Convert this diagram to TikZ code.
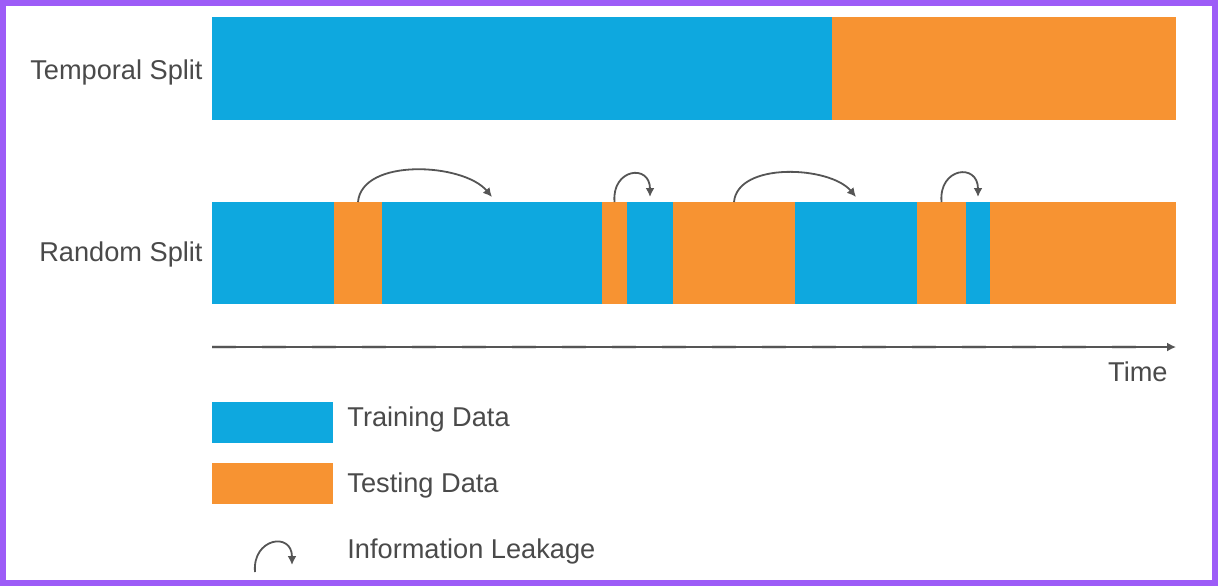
\documentclass[tikz,border=0pt]{standalone}
\usepackage{fontspec}
\setmainfont{Liberation Sans}
\usetikzlibrary{arrows.meta}
\definecolor{trainblue}{HTML}{0EA8DF}
\definecolor{testorange}{HTML}{F79332}
\definecolor{frameviolet}{HTML}{9D5CF7}
\definecolor{labelgray}{HTML}{4A4A4A}
\definecolor{leakgray}{HTML}{555555}
\begin{document}
\begin{tikzpicture}[
  x=0.5pt, y=-0.5pt,
  every node/.style={text=labelgray, font=\fontsize{13.6}{15}\selectfont, inner sep=0pt},
  leak/.style={draw=leakgray, line width=0.9pt, -{Latex[length=4.5pt, width=4.5pt]}},
  rowlabel/.style={anchor=east},
  legendtext/.style={anchor=west}
]
\useasboundingbox (0,0) rectangle (1218,586);
\fill[white] (0,0) rectangle (1218,586);
\draw[frameviolet, line width=3pt] (3,3) rectangle (1215,583);

% temporal split
\fill[trainblue] (212,17) rectangle (832,120);
\fill[testorange] (832,17) rectangle (1176,120);
\node[rowlabel] (temporal) at (203,72) {Temporal Split};

% random split
\foreach \nm/\a/\b/\c in {b1/212/334/trainblue, o1/334/382/testorange,
    b2/382/602/trainblue, o2/602/627/testorange, b3/627/673/trainblue,
    o3/673/795/testorange, b4/795/917/trainblue, o4/917/966/testorange,
    b5/966/990/trainblue, o5/990/1176/testorange}
{
  \fill[\c] (\a,202) rectangle (\b,304);
  \coordinate (\nm) at ({(\a+\b)/2},202);
}
\node[rowlabel] (random) at (203,254) {Random Split};

% leakage arcs
\draw[leak] (o1) to[out=85, in=130, looseness=0.85] ([yshift=2.5]b2);
\draw[leak] (o2) to[out=95, in=90, looseness=2.4] ([yshift=2.5]b3);
\draw[leak] (o3) to[out=85, in=130, looseness=0.85] ([yshift=2.5]b4);
\draw[leak] (o4) to[out=95, in=90, looseness=2.4] ([yshift=2.5]b5);

% time axis
\coordinate (t0) at (212,347);
\coordinate (t1) at (1176,347);
\draw[gray!25, line width=2.2pt, dash pattern=on 12 off 13] (t0) -- ([xshift=-8]t1);
\draw[leakgray, line width=0.8pt, -{Latex[length=4.5pt, width=4.5pt]}] (t0) -- (t1);
\node[anchor=east] (time) at (1168,372) {Time};

% legend
\fill[trainblue] (212,402) rectangle (333,443);
\node[legendtext] (train) at (347,419) {Training Data};
\fill[testorange] (212,463) rectangle (333,504);
\node[legendtext] (test) at (347,485) {Testing Data};
\coordinate (l0) at (255,572);
\coordinate (l1) at (292,565);
\draw[leak] (l0) to[out=95, in=90, looseness=2.3] (l1);
\node[legendtext] (leaklabel) at (347,551) {Information Leakage};
\end{tikzpicture}
\end{document}
